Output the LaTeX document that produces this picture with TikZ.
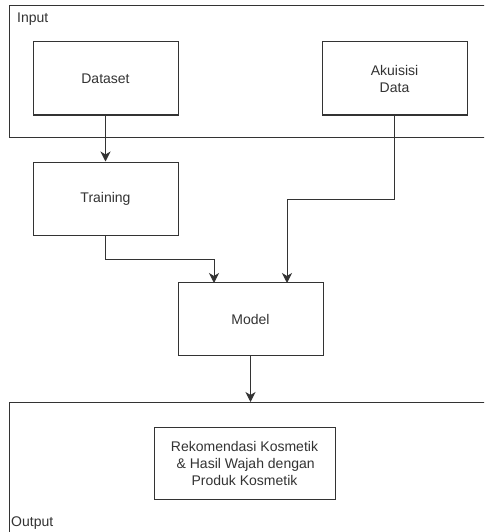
\documentclass[tikz,border=0pt]{standalone}
\usepackage{fontspec}
\setmainfont{Liberation Sans}
\usetikzlibrary{arrows.meta}
\definecolor{ink}{HTML}{333333}
\tikzset{
  box/.style={draw=ink, line width=1pt, minimum width=145pt, minimum height=73pt, inner sep=0pt, text=ink, font=\fontsize{14}{17}\selectfont, align=center},
  frame/.style={draw=ink, line width=1pt},
  lbl/.style={text=ink, font=\fontsize{14}{17}\selectfont, inner sep=0pt, anchor=west},
  conn/.style={draw=ink, line width=1pt, -{Stealth[length=10pt,width=10pt,inset=3pt]}}
}
\begin{document}
\begin{tikzpicture}[x=1pt,y=-1pt]
\useasboundingbox (0,0) rectangle (484,532);
\clip (0,0) rectangle (484,532);
\fill[white] (0,0) rectangle (484,532);
% frames
\draw[frame] (9,6) rectangle (500,137);
\draw[frame] (9,402) rectangle (500,560);
\node[lbl] (lin) at (17,19) {Input};
\node[lbl] (lout) at (11,523) {Output};
% boxes
\node[box] (dataset) at (105.5,78.5) {Dataset};
\node[box] (akuisisi) at (394.5,78.5) {Akuisisi\\Data};
\node[box] (training) at (105.5,198.5) {Training};
\node[box] (model) at (250.5,319) {Model};
\node[box, minimum width=181pt, minimum height=72pt] (rek) at (244.5,463) {Rekomendasi Kosmetik\\\,\& Hasil Wajah dengan\\Produk Kosmetik};
\coordinate (outtop) at (250.5,402);
% connectors
\draw[conn] (dataset.south) -- (training.north);
\draw[conn] (training.south) |- (214,259) -- (214,283);
\draw[conn] (akuisisi.south) -- (394.5,199) -| (287,283);
\draw[conn] (model.south) -- (outtop);
\end{tikzpicture}
\end{document}
